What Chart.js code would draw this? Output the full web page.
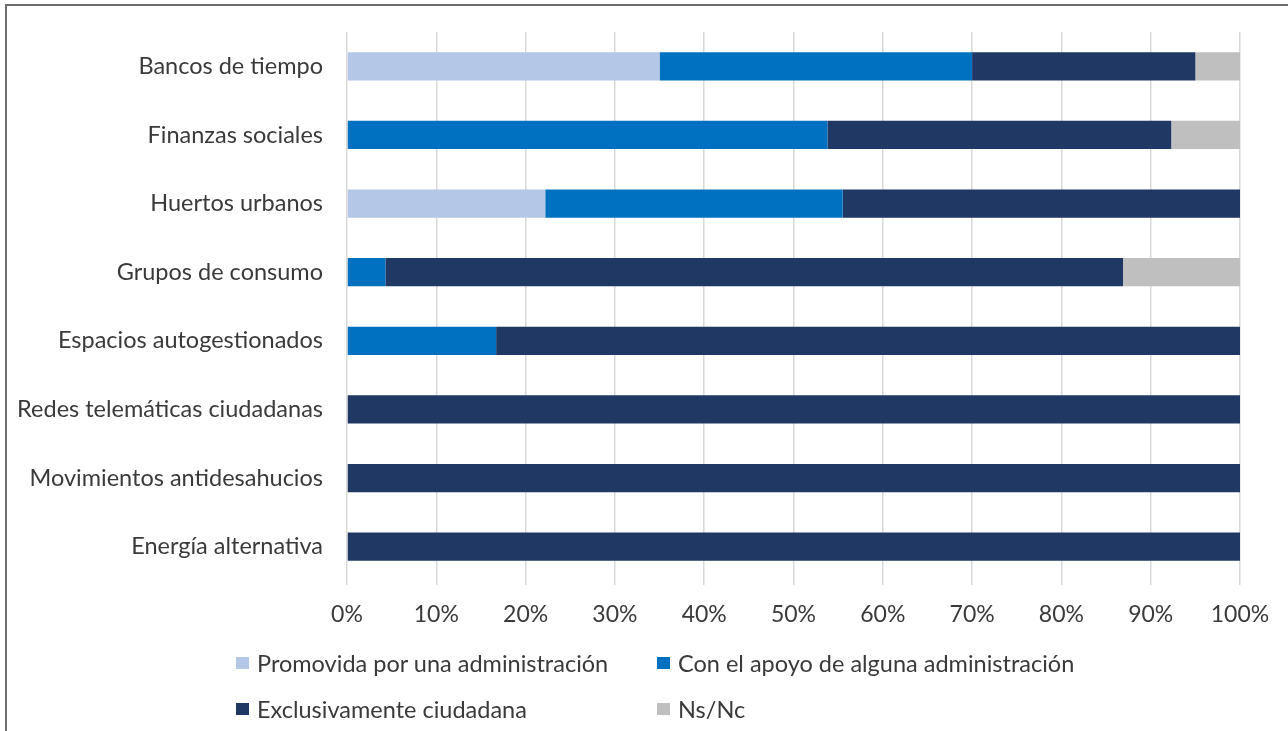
<!DOCTYPE html>
<html>
<head>
<meta charset="utf-8">
<script src="https://cdn.jsdelivr.net/npm/chart.js@4"></script>
<style>
  html, body { margin: 0; padding: 0; background: #fff; }
  #wrap { position: relative; width: 1288px; height: 731px; overflow: hidden; }
  #frame { position: absolute; left: 5px; top: 4px; right: -10px; bottom: -10px;
           border-top: 2px solid #6e6e6e; border-left: 2px solid #6e6e6e; }
  #chart { position: absolute; left: 0; top: 0; }
  #legend { position: absolute; left: 236px; top: 650px; display: grid;
            grid-template-columns: 421px 420px; row-gap: 20px;
            font-family: Lato, sans-serif; font-size: 23.5px; color: #3a3a3a; }
  .item { display: flex; align-items: center; height: 26px; white-space: nowrap; }
  .box { width: 13px; height: 12px; margin-right: 8px; }
</style>
</head>
<body>
<div id="wrap">
  <div id="frame"></div>
  <canvas id="chart" width="1288" height="731"></canvas>
  <div id="legend"></div>
</div>
<script>
// Chart data

const categories = [
  'Bancos de tiempo',
  'Finanzas sociales',
  'Huertos urbanos',
  'Grupos de consumo',
  'Espacios autogestionados',
  'Redes telemáticas ciudadanas',
  'Movimientos antidesahucios',
  'Energía alternativa'
];

const promovida = [35, 0, 22.2, 0, 0, 0, 0, 0];
const conApoyo = [35, 53.8, 33.3, 4.3, 16.7, 0, 0, 0];
const exclusiva = [25, 38.5, 44.5, 82.6, 83.3, 100, 100, 100];
const nsnc = [5, 7.7, 0, 13.1, 0, 0, 0, 0];

const seriesNames = [
  'Promovida por una administración',
  'Con el apoyo de alguna administración',
  'Exclusivamente ciudadana',
  'Ns/Nc'
];

const xTicks = [0, 10, 20, 30, 40, 50, 60, 70, 80, 90, 100];

const colors = ['#b4c7e7', '#0070c0', '#203864', '#bfbfbf'];

const font = { family: 'Lato, sans-serif', size: 23 };

const data = {
  labels: categories,
  datasets: [promovida, conApoyo, exclusiva, nsnc].map((vals, i) => ({
    label: seriesNames[i],
    data: vals,
    backgroundColor: colors[i],
    borderWidth: 0,
    barPercentage: 0.41,
    categoryPercentage: 1
  }))
};

const options = {
  indexAxis: 'y',
  responsive: false,
  animation: false,
  layout: {
    padding: { top: 32, right: 48, bottom: 100, left: 0 }
  },
  plugins: {
    legend: { display: false },
    tooltip: { enabled: false }
  },
  scales: {
    x: {
      stacked: true,
      min: 0,
      max: 100,
      afterBuildTicks: (scale) => {
        scale.ticks = xTicks.map(v => ({ value: v }));
      },
      afterFit: (scale) => { scale.height = 50; },
      ticks: {
        color: '#3a3a3a',
        font: font,
        padding: 16,
        maxRotation: 0,
        callback: (v) => v + '%'
      },
      grid: {
        color: '#d9d9d9',
        lineWidth: 1.5,
        tickLength: 4
      },
      border: { display: false }
    },
    y: {
      stacked: true,
      afterFit: (scale) => {
        scale.width = 347;
        scale.paddingTop = 0;
        scale.paddingBottom = 0;
      },
      ticks: {
        color: '#3a3a3a',
        font: { family: 'Lato, sans-serif', size: 23.5 },
        padding: 24
      },
      grid: { display: false, drawTicks: false },
      border: { display: false }
    }
  }
};

const chart = new Chart(document.getElementById('chart'), {
  type: 'bar',
  data: data,
  options: options
});

// legend
const legend = document.getElementById('legend');
seriesNames.forEach((name, i) => {
  const item = document.createElement('div');
  item.className = 'item';
  item.innerHTML = '<span class="box" style="background:' + colors[i] + '"></span>' + name;
  legend.appendChild(item);
});
</script>
</body>
</html>
